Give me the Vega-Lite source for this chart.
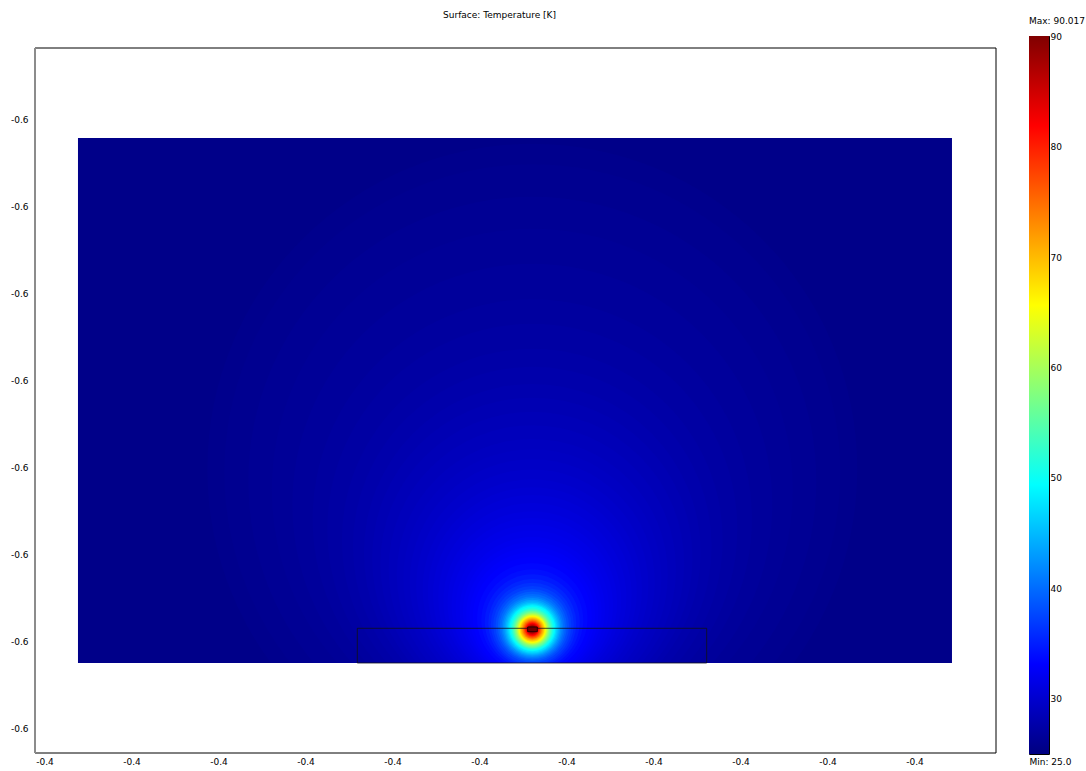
{
  "$schema": "https://vega.github.io/schema/vega-lite/v6.json",
  "background": "white",
  "padding": {"left": 10, "top": 11, "right": 0, "bottom": 0},
  "spacing": 31,
  "config": {
    "font": "DejaVu Sans",
    "locale": {"number": {"decimal": ".", "thousands": ",", "grouping": [3], "currency": ["", ""], "minus": "-"}},
    "view": {"stroke": "#000000", "strokeWidth": 1},
    "axis": {"labelFont": "DejaVu Sans", "labelFontSize": 9, "labelColor": "#000000", "grid": false, "ticks": false, "labelFlush": false, "labelOverlap": false},
    "title": {"font": "DejaVu Sans", "fontSize": 9, "fontWeight": "normal", "color": "#000000"}
  },
  "datasets": {
    "frame": [{"x0": -0.410218, "x1": -0.388126, "y0": -0.614552, "y1": -0.598345}],
    "domain": [{"x0": -0.40923, "x1": -0.389138, "y0": -0.612483, "y1": -0.600414, "T": 25.6}],
    "field": [
      {"cx": -0.398786, "cy": -0.60803, "r": 0.007471, "T": 25.8},
      {"cx": -0.398786, "cy": -0.608099, "r": 0.00708, "T": 26.0},
      {"cx": -0.398786, "cy": -0.608306, "r": 0.006529, "T": 26.25},
      {"cx": -0.398786, "cy": -0.608501, "r": 0.005989, "T": 26.5},
      {"cx": -0.398786, "cy": -0.608834, "r": 0.005517, "T": 26.75},
      {"cx": -0.398786, "cy": -0.609172, "r": 0.005051, "T": 27.0},
      {"cx": -0.398786, "cy": -0.609409, "r": 0.004713, "T": 27.25},
      {"cx": -0.398786, "cy": -0.609648, "r": 0.004377, "T": 27.5},
      {"cx": -0.398786, "cy": -0.609798, "r": 0.004124, "T": 27.75},
      {"cx": -0.398786, "cy": -0.609947, "r": 0.003871, "T": 28.0},
      {"cx": -0.398786, "cy": -0.610076, "r": 0.003683, "T": 28.25},
      {"cx": -0.398786, "cy": -0.610202, "r": 0.003494, "T": 28.5},
      {"cx": -0.398786, "cy": -0.610329, "r": 0.003303, "T": 28.75},
      {"cx": -0.398786, "cy": -0.610455, "r": 0.003115, "T": 29.0},
      {"cx": -0.398786, "cy": -0.610536, "r": 0.002966, "T": 29.25},
      {"cx": -0.398786, "cy": -0.610618, "r": 0.002818, "T": 29.5},
      {"cx": -0.398786, "cy": -0.610701, "r": 0.002669, "T": 29.75},
      {"cx": -0.398786, "cy": -0.610782, "r": 0.002522, "T": 30.0},
      {"cx": -0.398786, "cy": -0.610846, "r": 0.002402, "T": 30.25},
      {"cx": -0.398786, "cy": -0.61091, "r": 0.002283, "T": 30.5},
      {"cx": -0.398786, "cy": -0.610975, "r": 0.002163, "T": 30.75},
      {"cx": -0.398786, "cy": -0.611039, "r": 0.002044, "T": 31.0},
      {"cx": -0.398786, "cy": -0.611097, "r": 0.001949, "T": 31.25},
      {"cx": -0.398786, "cy": -0.611152, "r": 0.001855, "T": 31.5},
      {"cx": -0.398786, "cy": -0.611207, "r": 0.001761, "T": 31.75},
      {"cx": -0.398786, "cy": -0.611262, "r": 0.001669, "T": 32.0},
      {"cx": -0.398786, "cy": -0.611301, "r": 0.001593, "T": 32.25},
      {"cx": -0.398786, "cy": -0.61134, "r": 0.001517, "T": 32.5},
      {"cx": -0.398786, "cy": -0.611379, "r": 0.001441, "T": 32.75},
      {"cx": -0.398786, "cy": -0.611418, "r": 0.001366, "T": 33.0},
      {"cx": -0.398786, "cy": -0.61146, "r": 0.001269, "T": 33.5},
      {"cx": -0.398786, "cy": -0.611501, "r": 0.001172, "T": 34.0},
      {"cx": -0.398786, "cy": -0.611536, "r": 0.001092, "T": 34.75},
      {"cx": -0.398786, "cy": -0.61157, "r": 0.001011, "T": 35.5},
      {"cx": -0.398786, "cy": -0.611593, "r": 0.000954, "T": 36.25},
      {"cx": -0.398786, "cy": -0.611616, "r": 0.000897, "T": 37.0},
      {"cx": -0.398786, "cy": -0.611628, "r": 0.000844, "T": 38.0},
      {"cx": -0.398786, "cy": -0.611639, "r": 0.000793, "T": 39.0},
      {"cx": -0.398786, "cy": -0.61165, "r": 0.000752, "T": 40.0},
      {"cx": -0.398786, "cy": -0.611662, "r": 0.000713, "T": 41.0},
      {"cx": -0.398786, "cy": -0.611669, "r": 0.000678, "T": 42.25},
      {"cx": -0.398786, "cy": -0.611674, "r": 0.000644, "T": 43.5},
      {"cx": -0.398786, "cy": -0.61168, "r": 0.000614, "T": 44.75},
      {"cx": -0.398786, "cy": -0.611685, "r": 0.000586, "T": 46.0},
      {"cx": -0.398786, "cy": -0.611685, "r": 0.000556, "T": 47.5},
      {"cx": -0.398786, "cy": -0.611685, "r": 0.000529, "T": 49.0},
      {"cx": -0.398786, "cy": -0.611692, "r": 0.000499, "T": 50.5},
      {"cx": -0.398786, "cy": -0.611697, "r": 0.000471, "T": 52.0},
      {"cx": -0.398786, "cy": -0.611702, "r": 0.000448, "T": 53.5},
      {"cx": -0.398786, "cy": -0.611708, "r": 0.000425, "T": 55.0},
      {"cx": -0.398786, "cy": -0.611708, "r": 0.000405, "T": 56.5},
      {"cx": -0.398786, "cy": -0.611708, "r": 0.000386, "T": 58.0},
      {"cx": -0.398786, "cy": -0.611708, "r": 0.000368, "T": 59.5},
      {"cx": -0.398786, "cy": -0.611708, "r": 0.000352, "T": 61.0},
      {"cx": -0.398786, "cy": -0.611708, "r": 0.000336, "T": 62.5},
      {"cx": -0.398786, "cy": -0.611708, "r": 0.000322, "T": 64.0},
      {"cx": -0.398786, "cy": -0.611708, "r": 0.000307, "T": 65.5},
      {"cx": -0.398786, "cy": -0.611708, "r": 0.000292, "T": 67.0},
      {"cx": -0.398786, "cy": -0.611708, "r": 0.000276, "T": 68.5},
      {"cx": -0.398786, "cy": -0.611708, "r": 0.00026, "T": 70.0},
      {"cx": -0.398786, "cy": -0.611708, "r": 0.000244, "T": 71.5},
      {"cx": -0.398786, "cy": -0.611708, "r": 0.000228, "T": 73.0},
      {"cx": -0.398786, "cy": -0.611708, "r": 0.000213, "T": 74.5},
      {"cx": -0.398786, "cy": -0.611708, "r": 0.000198, "T": 76.0},
      {"cx": -0.398786, "cy": -0.611708, "r": 0.000184, "T": 77.5},
      {"cx": -0.398786, "cy": -0.611708, "r": 0.00017, "T": 79.0},
      {"cx": -0.398786, "cy": -0.611708, "r": 0.000156, "T": 80.5},
      {"cx": -0.398786, "cy": -0.611708, "r": 0.000143, "T": 82.0},
      {"cx": -0.398786, "cy": -0.611708, "r": 0.000129, "T": 83.5},
      {"cx": -0.398786, "cy": -0.611708, "r": 0.000115, "T": 85.0},
      {"cx": -0.398786, "cy": -0.611708, "r": 0.000099, "T": 86.5},
      {"cx": -0.398786, "cy": -0.611708, "r": 0.000083, "T": 88.0},
      {"cx": -0.398786, "cy": -0.611708, "r": 0.000067, "T": 89.0},
      {"cx": -0.398786, "cy": -0.611708, "r": 0.000051, "T": 90.0}
    ],
    "mask": [{"x0": -0.40923, "x1": -0.389138, "y0": -0.6147, "y1": -0.612483}],
    "outline": [{"x0": -0.402809, "x1": -0.394777, "y0": -0.612483, "y1": -0.611685}],
    "source": [{"x0": -0.398892, "x1": -0.398671, "y0": -0.611763, "y1": -0.611655}],
    "bar": [{"x0": 0, "x1": 1, "lo": 25, "hi": 90.017}]
  },
  "hconcat": [
    {
      "width": 961,
      "height": 717,
      "view": {"stroke": null},
      "title": {"text": "Surface: Temperature [K]", "anchor": "middle", "dx": -16, "offset": 16},
      "layer": [
        {
          "data": {"name": "domain"},
          "mark": {"type": "rect"},
          "encoding": {
            "x": {
              "field": "x0", "type": "quantitative",
              "scale": {"domain": [-0.410218, -0.388126], "nice": false, "zero": false},
              "axis": {"title": null, "values": [-0.41, -0.408, -0.406, -0.404, -0.402, -0.4, -0.398, -0.396, -0.394, -0.392, -0.39], "format": ".1f", "labelPadding": 4, "domain": false}
            },
            "x2": {"field": "x1"},
            "y": {
              "field": "y0", "type": "quantitative",
              "scale": {"domain": [-0.614552, -0.598069], "nice": false, "zero": false},
              "axis": {"title": null, "values": [-0.614, -0.612, -0.61, -0.608, -0.606, -0.604, -0.602, -0.6], "format": ".1f", "labelPadding": 7, "domain": false}
            },
            "y2": {"field": "y1"},
            "color": {
              "field": "T", "type": "quantitative", "legend": null,
              "scale": {"domain": [25, 33.127, 49.381, 57.509, 65.636, 81.89, 90.017], "range": ["#000080", "#0000ff", "#00ffff", "#80ff80", "#ffff00", "#ff0000", "#800000"], "interpolate": "rgb"}
            }
          }
        },
        {
          "data": {"name": "field"},
          "mark": {"type": "point", "shape": "circle", "filled": true, "opacity": 1, "strokeWidth": 0, "clip": true},
          "encoding": {
            "x": {"field": "cx", "type": "quantitative", "title": null},
            "y": {"field": "cy", "type": "quantitative", "title": null},
            "size": {"field": "r", "type": "quantitative", "legend": null, "scale": {"type": "pow", "exponent": 2, "domain": [0, 0.01], "range": [0, 756900]}},
            "color": {"field": "T", "type": "quantitative", "legend": null}
          }
        },
        {
          "data": {"name": "mask"},
          "mark": {"type": "rect", "color": "#ffffff", "clip": true},
          "encoding": {
            "x": {"field": "x0", "type": "quantitative", "title": null},
            "x2": {"field": "x1"},
            "y": {"field": "y0", "type": "quantitative", "title": null},
            "y2": {"field": "y1"}
          }
        },
        {
          "data": {"name": "outline"},
          "mark": {"type": "rect", "filled": false, "color": "#111118", "strokeWidth": 1, "strokeOpacity": 0.8},
          "encoding": {
            "x": {"field": "x0", "type": "quantitative", "title": null},
            "x2": {"field": "x1"},
            "y": {"field": "y0", "type": "quantitative", "title": null},
            "y2": {"field": "y1"}
          }
        },
        {
          "data": {"name": "source"},
          "mark": {"type": "rect", "fill": "#6e0000", "stroke": "#2a0000", "strokeWidth": 1},
          "encoding": {
            "x": {"field": "x0", "type": "quantitative", "title": null},
            "x2": {"field": "x1"},
            "y": {"field": "y0", "type": "quantitative", "title": null},
            "y2": {"field": "y1"}
          }
        },
        {
          "data": {"name": "frame"},
          "mark": {"type": "rect", "filled": false, "color": "#000000", "strokeWidth": 1},
          "encoding": {
            "x": {"field": "x0", "type": "quantitative", "title": null},
            "x2": {"field": "x1"},
            "y": {"field": "y0", "type": "quantitative", "title": null},
            "y2": {"field": "y1"}
          }
        },
        {
          "data": {"name": "frame"},
          "mark": {"type": "rule", "color": "#8c8c8c", "strokeWidth": 2},
          "encoding": {
            "x": {"field": "x0", "type": "quantitative", "title": null},
            "y": {"field": "y0", "type": "quantitative", "title": null},
            "y2": {"field": "y1"}
          }
        }
      ]
    },
    {
      "width": 20,
      "height": 718,
      "title": {"text": "Max: 90.017", "anchor": "start", "offset": 6},
      "data": {"name": "bar"},
      "mark": {
        "type": "rect",
        "color": {
          "gradient": "linear", "x1": 0, "y1": 1, "x2": 0, "y2": 0,
          "stops": [
            {"offset": 0, "color": "#000080"},
            {"offset": 0.125, "color": "#0000ff"},
            {"offset": 0.375, "color": "#00ffff"},
            {"offset": 0.5, "color": "#80ff80"},
            {"offset": 0.625, "color": "#ffff00"},
            {"offset": 0.875, "color": "#ff0000"},
            {"offset": 1, "color": "#800000"}
          ]
        }
      },
      "encoding": {
        "x": {
          "field": "x0", "type": "quantitative",
          "scale": {"domain": [0, 1], "nice": false},
          "axis": {"title": "Min: 25.0", "labels": false, "domain": false, "titleAnchor": "start", "titlePadding": 3, "titleFont": "DejaVu Sans", "titleFontSize": 9, "titleFontWeight": "normal", "titleColor": "#000000"}
        },
        "x2": {"field": "x1"},
        "y": {
          "field": "lo", "type": "quantitative",
          "scale": {"domain": [25, 90.017], "nice": false, "zero": false},
          "axis": {"title": null, "orient": "right", "values": [30, 40, 50, 60, 70, 80, 90], "format": "d", "ticks": true, "tickSize": -4, "tickColor": "#000000", "labelPadding": 5, "domain": false}
        },
        "y2": {"field": "hi"}
      }
    }
  ]
}
